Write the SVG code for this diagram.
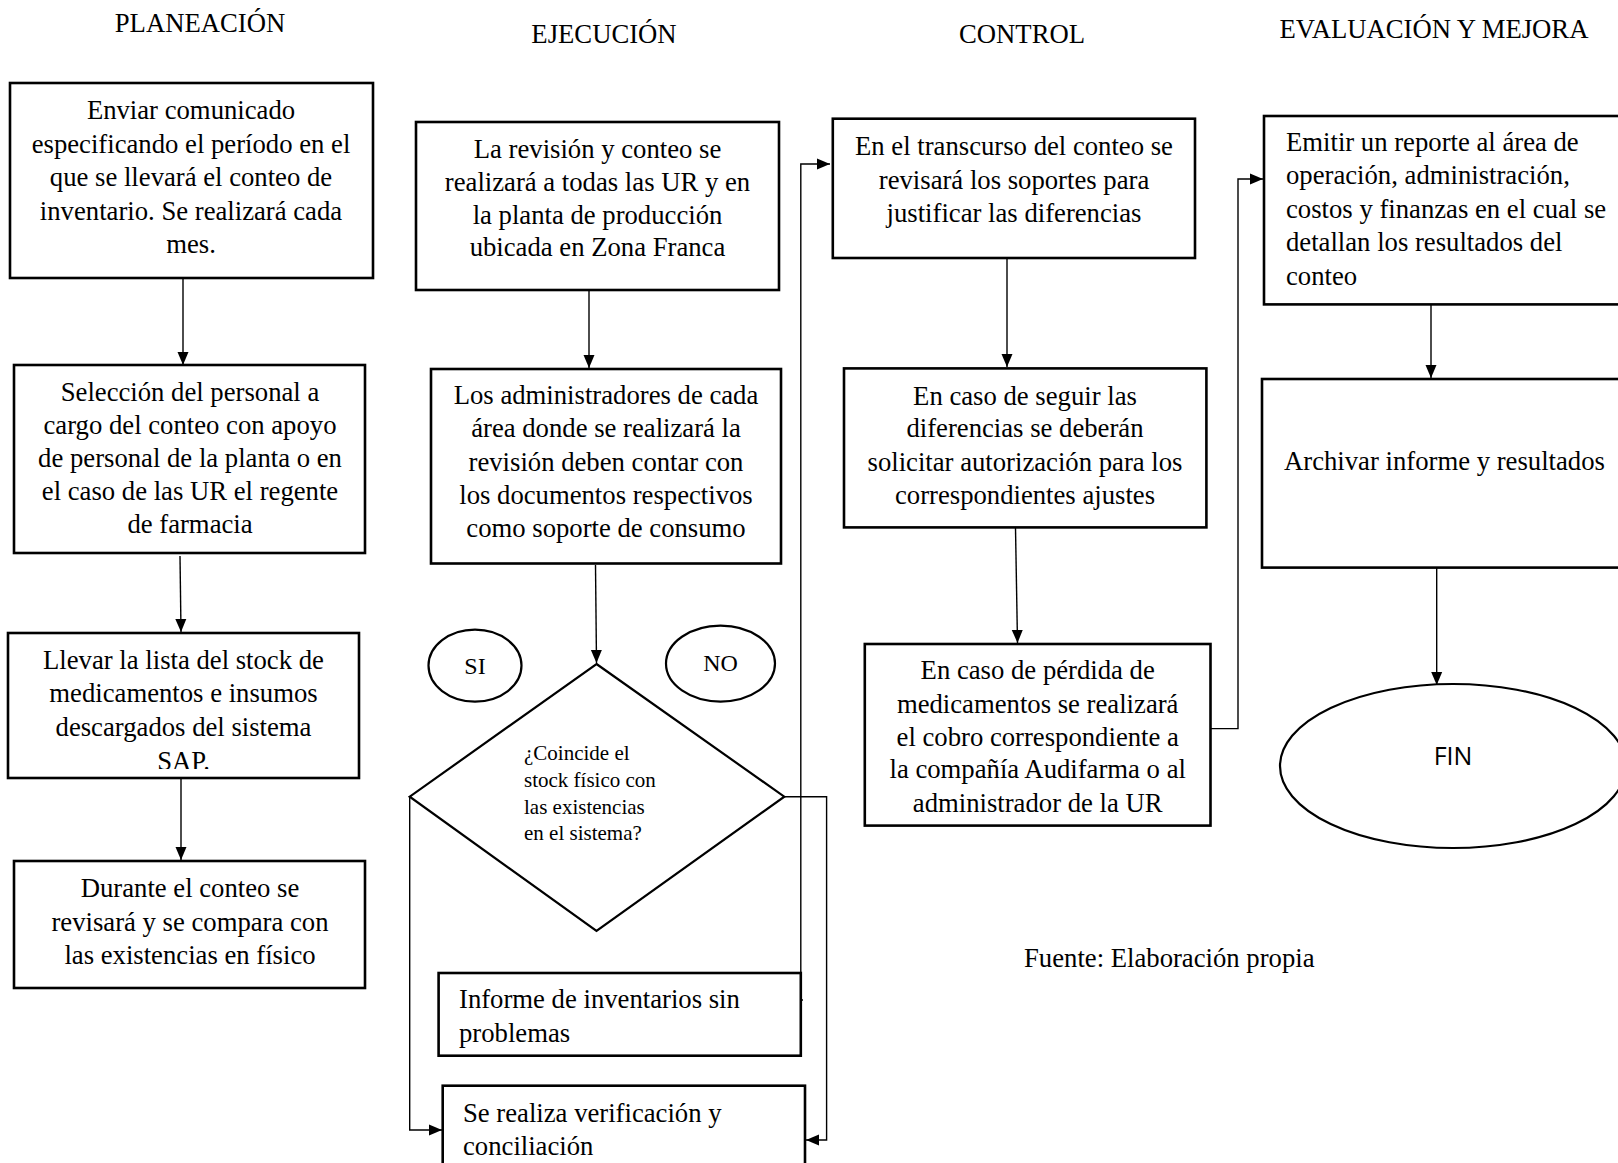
<svg xmlns="http://www.w3.org/2000/svg" width="1618" height="1163" viewBox="0 0 1618 1163">
<style>
  .t { font-family: "Liberation Serif", "Times New Roman", serif; font-size: 26.7px; fill: #000; }
  .c { text-anchor: middle; }
  .s { font-size: 21px; }
  .o { font-size: 24px; }
  .box { fill: #fff; stroke: #000; stroke-width: 2.6; }
  .shape { fill: #fff; stroke: #000; stroke-width: 2.2; }
  .con { fill: none; stroke: #000; stroke-width: 1.4; }
  .fin { font-family: "Open Sans", "Noto Sans", "Liberation Sans", sans-serif; font-size: 25px; text-anchor: middle; }
</style>
<defs>
  <marker id="arr" markerUnits="userSpaceOnUse" markerWidth="14" markerHeight="14" viewBox="0 0 14 14" refX="13" refY="7" orient="auto">
    <path d="M0,1.5 L13,7 L0,12.5 Z" fill="#000"/>
  </marker>
  <clipPath id="clip3"><rect x="8" y="633" width="351" height="136"/></clipPath>
  <clipPath id="clip7"><rect x="438" y="973" width="363" height="78"/></clipPath>
</defs>
<rect width="1618" height="1163" fill="#fff"/>

<g id="titles" class="t c">
  <text x="200" y="32">PLANEACIÓN</text>
  <text x="604" y="43">EJECUCIÓN</text>
  <text x="1022" y="43">CONTROL</text>
  <text x="1434" y="38">EVALUACIÓN Y MEJORA</text>
</g>

<g id="connectors">
  <path class="con" d="M183 278 V365" marker-end="url(#arr)"/>
  <path class="con" d="M180 556 L181 632" marker-end="url(#arr)"/>
  <path class="con" d="M181 778 V860" marker-end="url(#arr)"/>
  <path class="con" d="M589 290 V368" marker-end="url(#arr)"/>
  <path class="con" d="M595.5 565 L596.5 663" marker-end="url(#arr)"/>
  <path class="con" d="M409.7 796.7 V1130 H442" marker-end="url(#arr)"/>
  <path class="con" d="M784.3 796.7 H826.6 V1140 H806" marker-end="url(#arr)"/>
  <path class="con" d="M803 1000 H800.8 V164 H830" marker-end="url(#arr)"/>
  <path class="con" d="M1007 258 V367" marker-end="url(#arr)"/>
  <path class="con" d="M1015.5 528 L1017.5 643" marker-end="url(#arr)"/>
  <path class="con" d="M1210.5 728.6 H1238 V179 H1263" marker-end="url(#arr)"/>
  <path class="con" d="M1431 305 V378" marker-end="url(#arr)"/>
  <path class="con" d="M1436.7 568 V685" marker-end="url(#arr)"/>
</g>

<g id="n1">
  <rect class="box" x="10" y="83" width="363" height="195"/>
  <text class="t c" x="191"><tspan x="191" y="119">Enviar comunicado</tspan><tspan x="191" y="152.5">especificando el período en el</tspan><tspan x="191" y="186">que se llevará el conteo de</tspan><tspan x="191" y="219.5">inventario. Se realizará cada</tspan><tspan x="191" y="253">mes.</tspan></text>
</g>
<g id="n2">
  <rect class="box" x="14" y="365" width="351" height="188"/>
  <text class="t c"><tspan x="190" y="401">Selección del personal a</tspan><tspan x="190" y="434">cargo del conteo con apoyo</tspan><tspan x="190" y="467">de personal de la planta o en</tspan><tspan x="190" y="500">el caso de las UR el regente</tspan><tspan x="190" y="533">de farmacia</tspan></text>
</g>
<g id="n3">
  <rect class="box" x="8" y="633" width="351" height="145"/>
  <text class="t c"><tspan x="183.5" y="668.5">Llevar la lista del stock de</tspan><tspan x="183.5" y="702">medicamentos e insumos</tspan><tspan x="183.5" y="735.5">descargados del sistema</tspan></text>
  <text class="t c" x="183.5" y="770" clip-path="url(#clip3)">SAP.</text>
</g>
<g id="n4">
  <rect class="box" x="14" y="861" width="351" height="127"/>
  <text class="t c"><tspan x="190" y="897">Durante el conteo se</tspan><tspan x="190" y="930.5">revisará y se compara con</tspan><tspan x="190" y="964">las existencias en físico</tspan></text>
</g>

<g id="n5">
  <rect class="box" x="416" y="122" width="363" height="168"/>
  <text class="t c"><tspan x="597.5" y="157.5">La revisión y conteo se</tspan><tspan x="597.5" y="190.5">realizará a todas las UR y en</tspan><tspan x="597.5" y="223.5">la planta de producción</tspan><tspan x="597.5" y="256">ubicada en Zona Franca</tspan></text>
</g>
<g id="n6">
  <rect class="box" x="431" y="369" width="350" height="194.5"/>
  <text class="t c"><tspan x="606" y="404">Los administradores de cada</tspan><tspan x="606" y="437">área donde se realizará la</tspan><tspan x="606" y="471">revisión deben contar con</tspan><tspan x="606" y="504">los documentos respectivos</tspan><tspan x="606" y="537">como soporte de consumo</tspan></text>
</g>
<g id="si">
  <ellipse class="shape" cx="475" cy="665.6" rx="46.5" ry="36"/>
  <text class="t o c" x="475" y="674">SI</text>
</g>
<g id="no">
  <ellipse class="shape" cx="720.5" cy="663.6" rx="54.5" ry="38"/>
  <text class="t o c" x="720.5" y="671">NO</text>
</g>
<g id="decision">
  <polygon class="shape" points="596.5,664 784.3,796.7 596.5,931 409.7,796.7"/>
  <text class="t s"><tspan x="524" y="760">¿Coincide el</tspan><tspan x="524" y="787">stock físico con</tspan><tspan x="524" y="814">las existencias</tspan><tspan x="524" y="840">en el sistema?</tspan></text>
</g>
<g id="n7">
  <rect class="box" x="438.6" y="973" width="362.2" height="82.7"/>
  <text class="t" clip-path="url(#clip7)"><tspan x="459" y="1008">Informe de inventarios sin</tspan><tspan x="459" y="1042">problemas</tspan></text>
</g>
<g id="n8">
  <rect class="box" x="442.7" y="1085.7" width="362.3" height="90"/>
  <text class="t"><tspan x="463" y="1121.5">Se realiza verificación y</tspan><tspan x="463" y="1154.5">conciliación</tspan></text>
</g>

<g id="n9">
  <rect class="box" x="832.8" y="118.7" width="362.2" height="139.3"/>
  <text class="t c"><tspan x="1014" y="154.5">En el transcurso del conteo se</tspan><tspan x="1014" y="188.5">revisará los soportes para</tspan><tspan x="1014" y="221.5">justificar las diferencias</tspan></text>
</g>
<g id="n10">
  <rect class="box" x="844" y="368.4" width="362.4" height="159"/>
  <text class="t c"><tspan x="1025" y="405">En caso de seguir las</tspan><tspan x="1025" y="437">diferencias se deberán</tspan><tspan x="1025" y="471">solicitar autorización para los</tspan><tspan x="1025" y="504">correspondientes ajustes</tspan></text>
</g>
<g id="n11">
  <rect class="box" x="864.8" y="644" width="345.7" height="181.6"/>
  <text class="t c"><tspan x="1037.7" y="679">En caso de pérdida de</tspan><tspan x="1037.7" y="713">medicamentos se realizará</tspan><tspan x="1037.7" y="746">el cobro correspondiente a</tspan><tspan x="1037.7" y="778">la compañía Audifarma o al</tspan><tspan x="1037.7" y="812">administrador de la UR</tspan></text>
</g>

<g id="n12">
  <rect class="box" x="1264" y="116" width="370" height="188.4"/>
  <text class="t"><tspan x="1286" y="150.5">Emitir un reporte al área de</tspan><tspan x="1286" y="183.5">operación, administración,</tspan><tspan x="1286" y="217.5">costos y finanzas en el cual se</tspan><tspan x="1286" y="250.5">detallan los resultados del</tspan><tspan x="1286" y="284.5">conteo</tspan></text>
</g>
<g id="n13">
  <rect class="box" x="1262" y="379" width="372" height="188.6"/>
  <text class="t" x="1284" y="470">Archivar informe y resultados</text>
</g>
<g id="fin">
  <ellipse class="shape" cx="1453" cy="766" rx="173" ry="82"/>
  <text class="fin" x="1453" y="765">FIN</text>
</g>

<g id="source">
  <text class="t" x="1024" y="967">Fuente: Elaboración propia</text>
</g>
</svg>
